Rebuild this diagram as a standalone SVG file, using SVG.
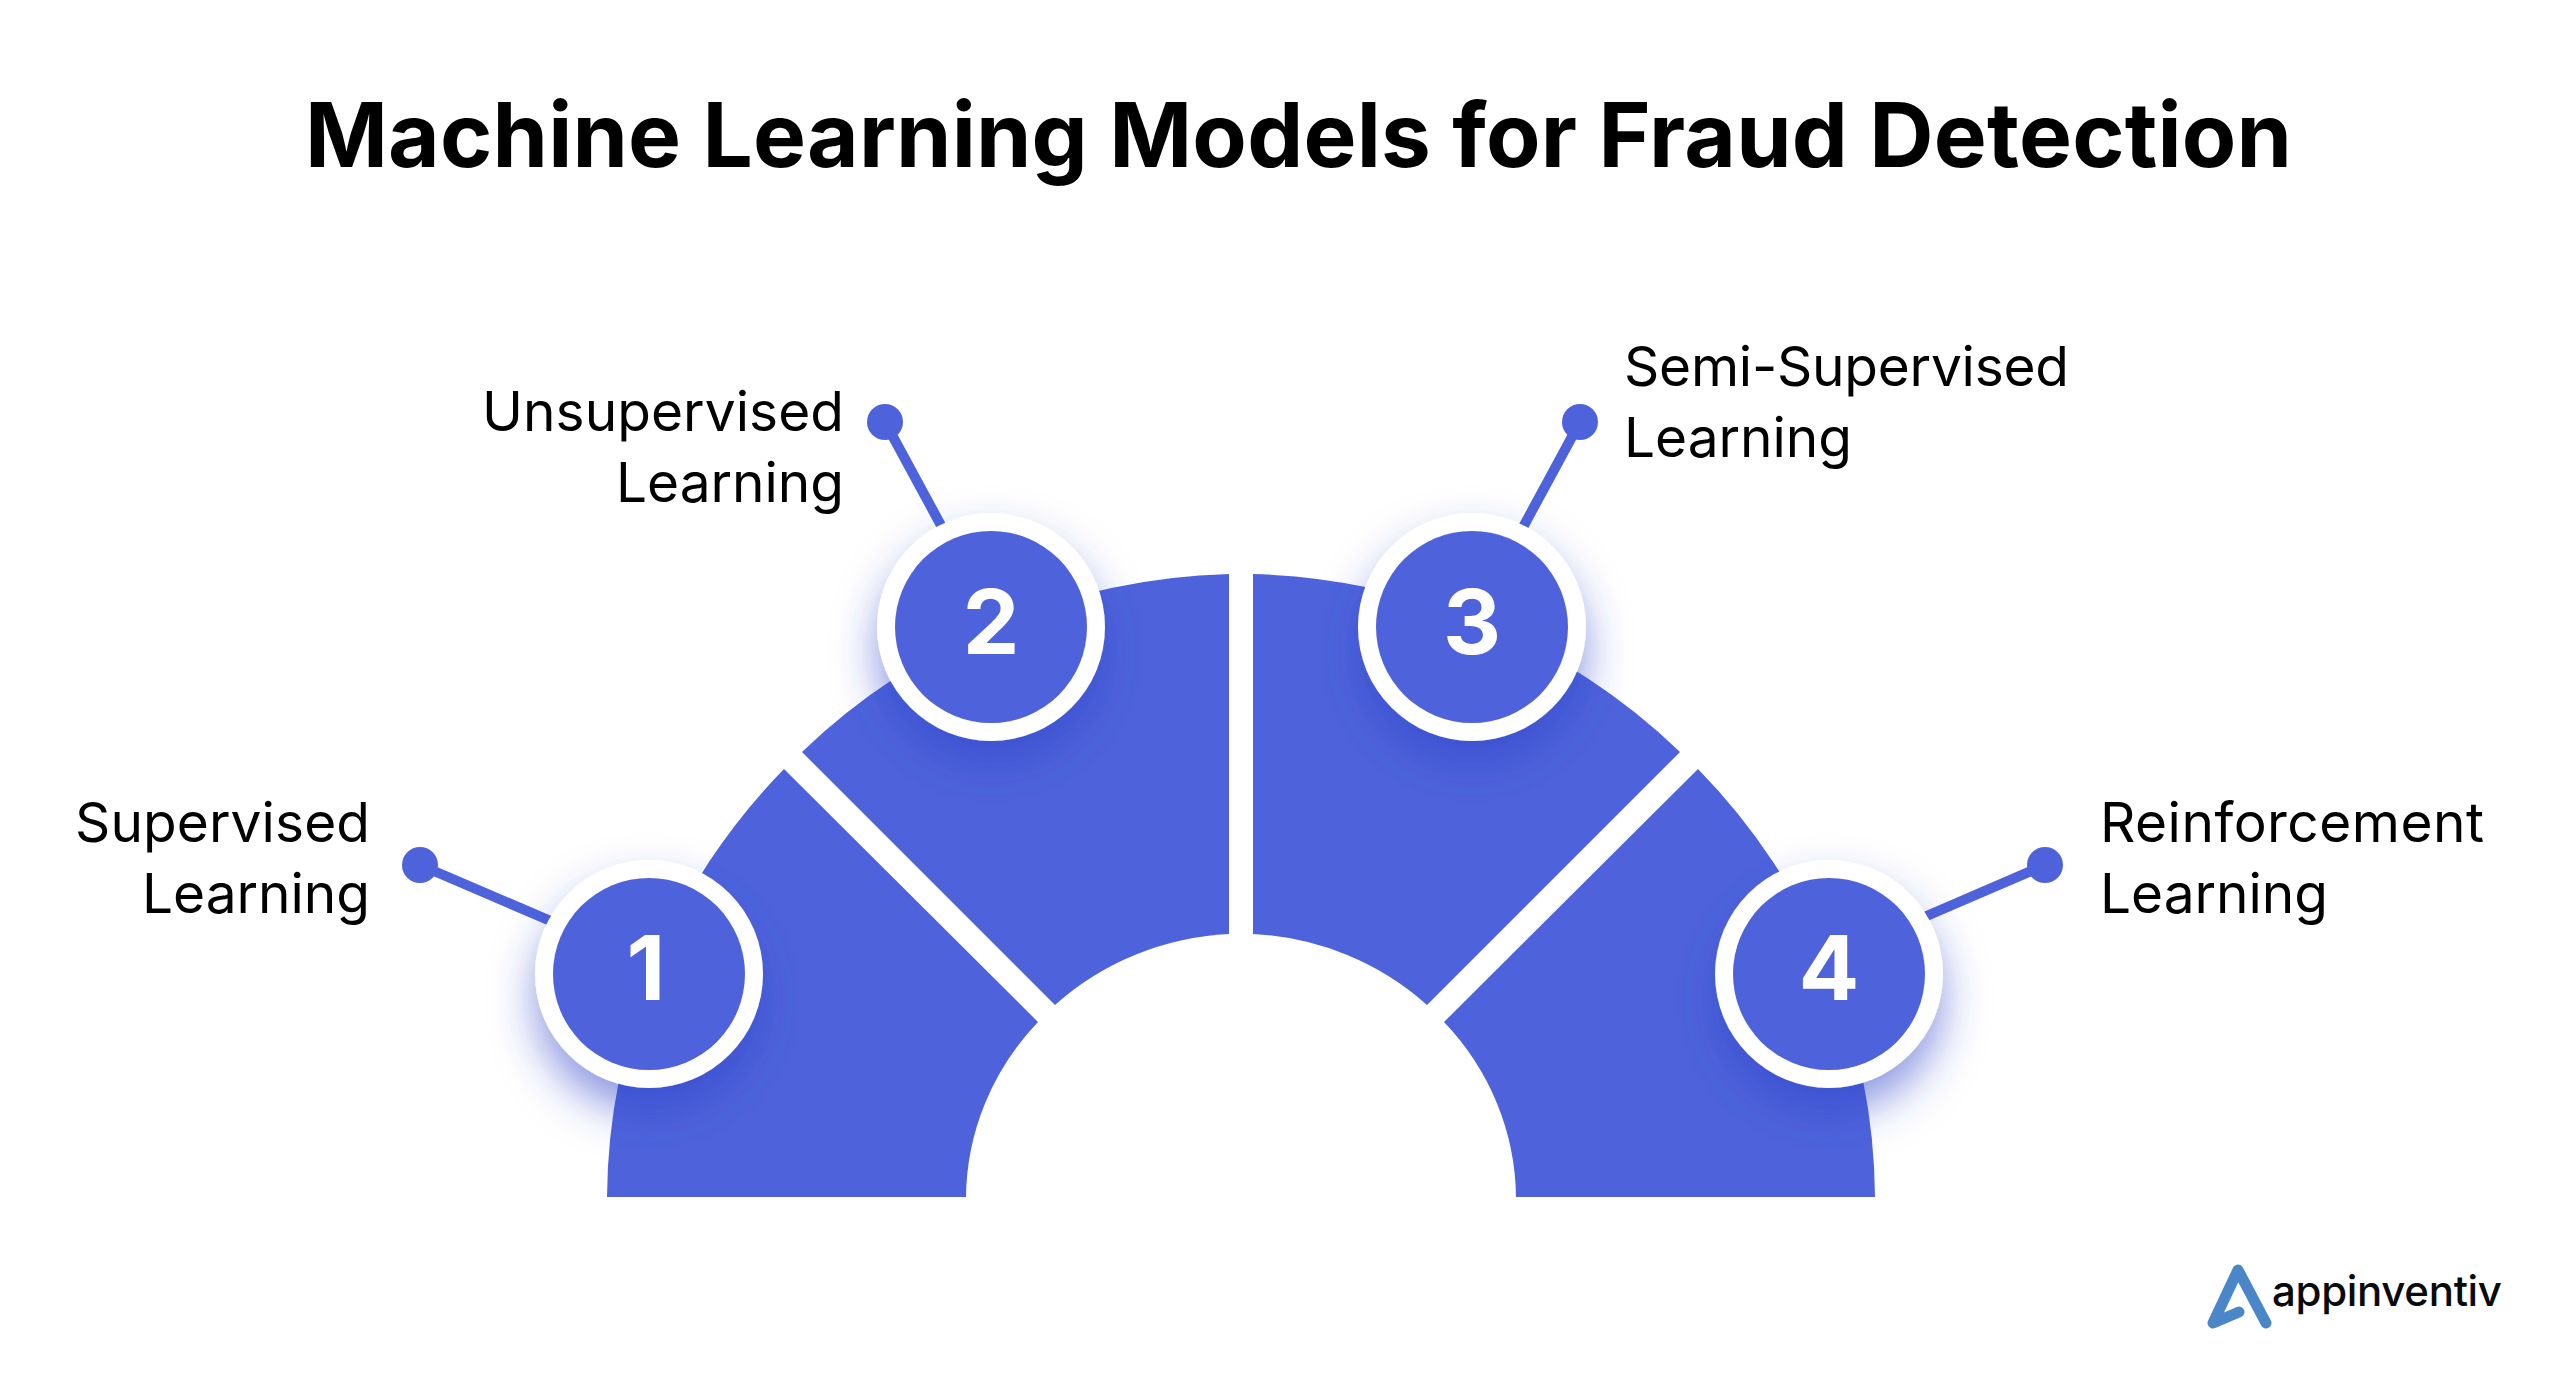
<svg xmlns="http://www.w3.org/2000/svg" width="2560" height="1378" viewBox="0 0 2560 1378">
<style>
.seg{fill:#4e63db}
.ring{fill:#fff;filter:url(#sh)}
.disc{fill:#4e63db}
.num{font-family:Inter,"Liberation Sans",sans-serif;font-weight:700;font-size:90px;fill:#fff;text-anchor:middle}
.lbl{font-family:Inter,"Liberation Sans",sans-serif;font-weight:400;font-size:55px;fill:#000}
.end{text-anchor:end}
.lead{stroke:#4e63db;stroke-width:10;fill:none}
.dot{fill:#4e63db}
</style>
<defs>
<filter id="sh" x="-50%" y="-50%" width="200%" height="200%"><feDropShadow dx="0" dy="24" stdDeviation="22" flood-color="#2f42c8" flood-opacity="0.55"/></filter>
</defs>
<rect width="2560" height="1378" fill="#fff"/>
<text id="title" x="1298.5" y="167" text-anchor="middle" font-family="Inter,'Liberation Sans',sans-serif" font-weight="700" font-size="89" fill="#000" textLength="1987" lengthAdjust="spacing">Machine Learning Models for Fraud Detection</text>
<g id="segments">
<path class="seg" d="M607,1197A634,623 0 0 1 784,769L1038,1022A275,263 0 0 0 966,1197Z"/>
<path class="seg" d="M802,752A634,623 0 0 1 1229,574L1229,934A275,263 0 0 0 1055,1005Z"/>
<path class="seg" d="M1253,574A634,623 0 0 1 1680,752L1427,1005A275,263 0 0 0 1253,934Z"/>
<path class="seg" d="M1698,769A634,623 0 0 1 1875,1197L1516,1197A275,263 0 0 0 1444,1022Z"/>
</g>
<g id="connectors">
<path class="lead" d="M420,865L560,925"/><circle class="dot" cx="420" cy="865" r="18"/>
<path class="lead" d="M885,422L950,542"/><circle class="dot" cx="885" cy="422" r="18"/>
<path class="lead" d="M1580,422L1515,542"/><circle class="dot" cx="1580" cy="422" r="18"/>
<path class="lead" d="M2045,865L1915,921"/><circle class="dot" cx="2045" cy="865" r="18"/>
</g>
<g id="node-1">
<circle class="ring" cx="649" cy="974" r="114"/><circle class="disc" cx="649" cy="974" r="96"/>
<text class="num" x="646" y="1000">1</text>
<text class="lbl end" x="370" y="842" textLength="295" lengthAdjust="spacing">Supervised</text><text class="lbl end" x="370" y="913" textLength="228" lengthAdjust="spacing">Learning</text>
</g>
<g id="node-2">
<circle class="ring" cx="991" cy="627" r="114"/><circle class="disc" cx="991" cy="627" r="96"/>
<text class="num" x="991" y="654">2</text>
<text class="lbl end" x="844" y="431" textLength="362" lengthAdjust="spacing">Unsupervised</text><text class="lbl end" x="844" y="502" textLength="228" lengthAdjust="spacing">Learning</text>
</g>
<g id="node-3">
<circle class="ring" cx="1472" cy="627" r="114"/><circle class="disc" cx="1472" cy="627" r="96"/>
<text class="num" x="1472" y="654">3</text>
<text class="lbl" x="1624" y="386" textLength="445" lengthAdjust="spacing">Semi-Supervised</text><text class="lbl" x="1624" y="457" textLength="228" lengthAdjust="spacing">Learning</text>
</g>
<g id="node-4">
<circle class="ring" cx="1829" cy="974" r="114"/><circle class="disc" cx="1829" cy="974" r="96"/>
<text class="num" x="1829" y="1000">4</text>
<text class="lbl" x="2100" y="842" textLength="384" lengthAdjust="spacing">Reinforcement</text><text class="lbl" x="2100" y="913" textLength="228" lengthAdjust="spacing">Learning</text>
</g>
<g id="logo">
<path d="M2266,1323L2238,1270L2213,1323L2239,1312" fill="none" stroke="#4a86c8" stroke-width="11" stroke-linecap="round" stroke-linejoin="round"/>
<text x="2272" y="1306" font-family="Inter,'Liberation Sans',sans-serif" font-weight="500" font-size="42" fill="#0a0a0a" textLength="230" lengthAdjust="spacing">appinventiv</text>
</g>
</svg>
